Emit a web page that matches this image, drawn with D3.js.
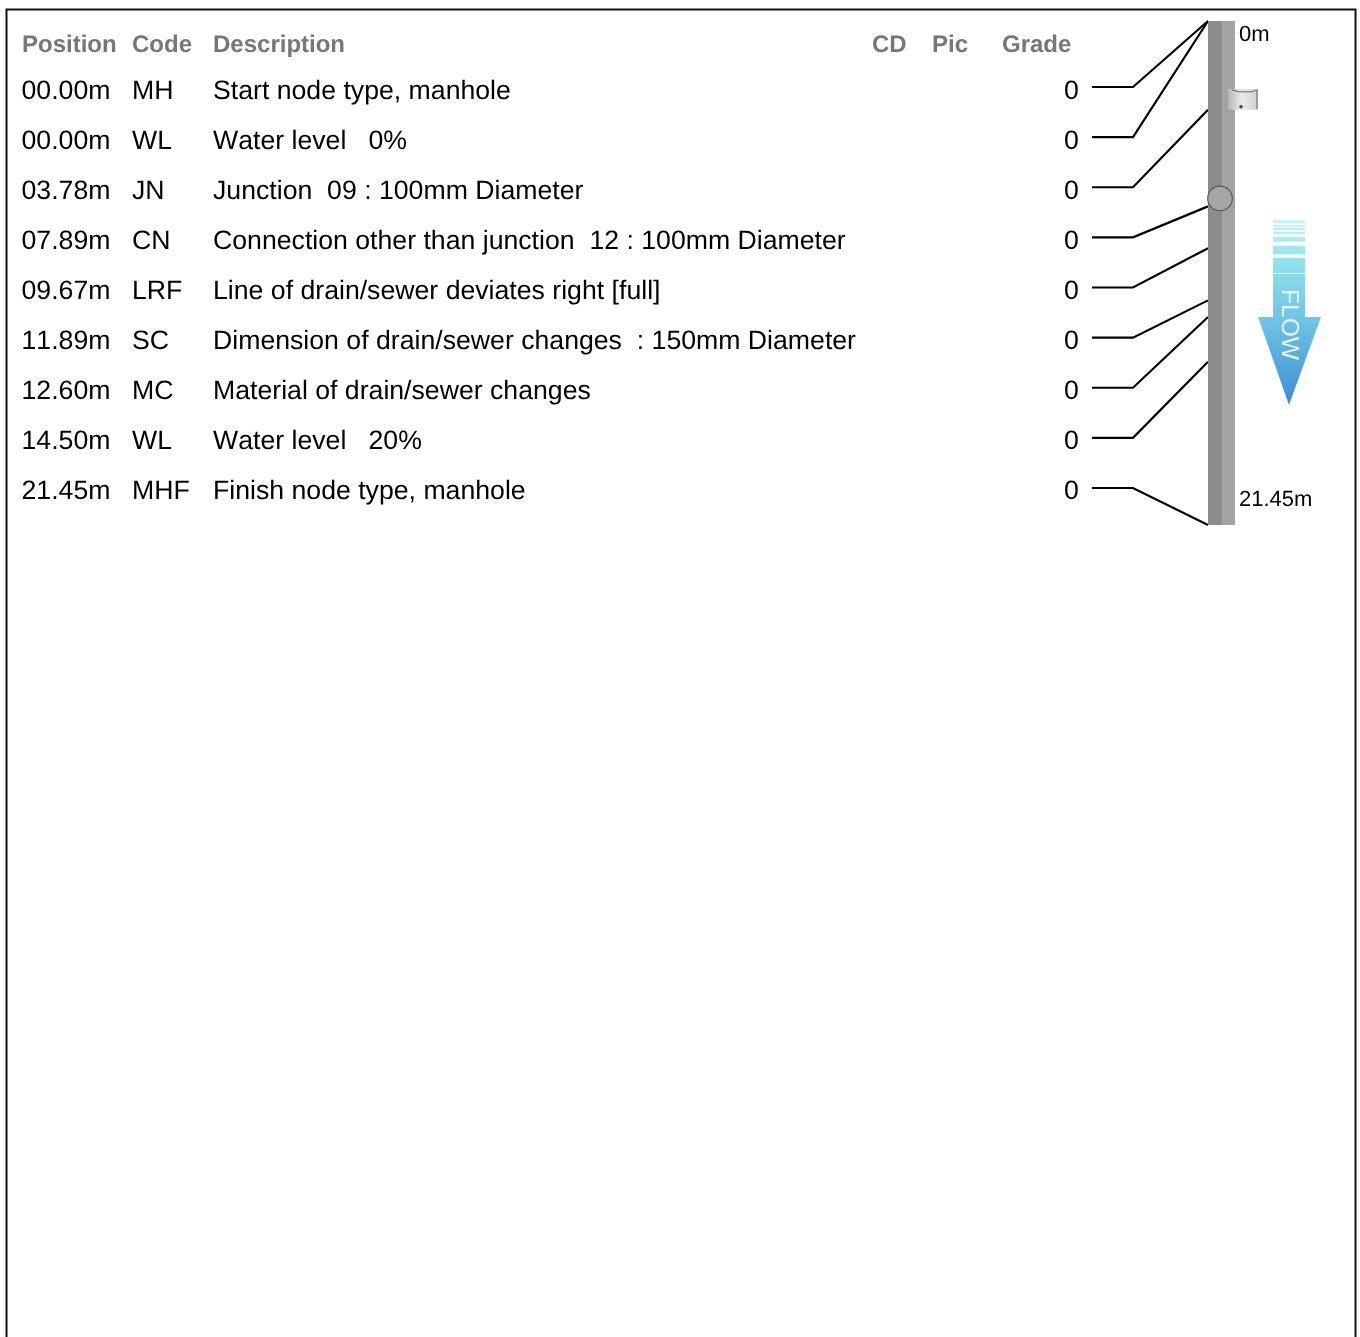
<!DOCTYPE html>
<html><head><meta charset="utf-8">
<script src="https://cdn.jsdelivr.net/npm/d3@7/dist/d3.min.js"></script>
<style>html,body{margin:0;padding:0;background:#fff}svg{display:block;filter:blur(0.35px)}text{font-family:"Liberation Sans",Arial,sans-serif;white-space:pre;font-kerning:none;text-rendering:geometricPrecision}</style>
</head><body><svg id="c" width="1360" height="1337"></svg>
<script>
const headers=["Position","Code","Description","CD","Pic","Grade"];
const positions=[0,0,3.78,7.89,9.67,11.89,12.60,14.50,21.45];
const codes=["MH","WL","JN","CN","LRF","SC","MC","WL","MHF"];
const descriptions=["Start node type, manhole","Water level   0%","Junction  09 : 100mm Diameter","Connection other than junction  12 : 100mm Diameter","Line of drain/sewer deviates right [full]","Dimension of drain/sewer changes  : 150mm Diameter","Material of drain/sewer changes","Water level   20%","Finish node type, manhole"];
const grades=[0,0,0,0,0,0,0,0,0];
const pipeEnds=[0,21.45];
const flowBands=[[220,223],[225,226.7],[227.7,230],[231.7,234.3],[236.7,241.7],[245.7,254.3],[257.7,273],[274,317]];

const svg=d3.select("#c");
const W=1360,H=1337;
const y=d3.scaleLinear().domain(pipeEnds).range([21,525]);
const row=d3.scaleLinear().domain([0,8]).range([99,499]);
const leadY=d3.scaleLinear().domain([0,8]).range([87,488]);
const fmt=p=>d3.format("05.2f")(p)+"m";

const defs=svg.append("defs");
defs.append("filter").attr("id","soft").append("feGaussianBlur").attr("stdDeviation",0.6);
const g1=defs.append("linearGradient").attr("id","flowG").attr("gradientUnits","userSpaceOnUse").attr("x1",0).attr("x2",0).attr("y1",220).attr("y2",405);
[[0,"#c8f4f6"],[0.2,"#93e4ec"],[0.5,"#74c8e6"],[1,"#3a8ed3"]].forEach(s=>g1.append("stop").attr("offset",s[0]).attr("stop-color",s[1]));
const g2=defs.append("linearGradient").attr("id","iconG").attr("x1",0).attr("x2",1).attr("y1",0).attr("y2",0);
[[0,"#b5b5b5"],[0.45,"#ebebeb"],[1,"#d0d0d0"]].forEach(s=>g2.append("stop").attr("offset",s[0]).attr("stop-color",s[1]));

// frame (open at the bottom: it runs past the page edge)
svg.append("path").attr("d",`M6.5,${H+5}V9.5H1355.5V${H+5}`).attr("fill","none").attr("stroke","#111").attr("stroke-width",2);

// header
const colX=[22,132,213,872,932,1002];
svg.selectAll("text.h").data(headers).join("text").attr("class","h")
  .attr("x",(d,i)=>colX[i]).attr("y",52).attr("font-size",24).attr("font-weight","bold").attr("fill","#777").text(d=>d);

// rows
const rows=svg.selectAll("g.r").data(positions).join("g").attr("class","r");
const fs=26.67;
rows.append("text").attr("x",21.5).attr("y",(d,i)=>row(i)).attr("font-size",fs).attr("fill","#000").text(d=>fmt(d));
rows.append("text").attr("x",132).attr("y",(d,i)=>row(i)).attr("font-size",fs).text((d,i)=>codes[i]);
rows.append("text").attr("x",213).attr("y",(d,i)=>row(i)).attr("font-size",fs).text((d,i)=>descriptions[i]);
rows.append("text").attr("x",1064).attr("y",(d,i)=>row(i)).attr("font-size",fs).text((d,i)=>grades[i]);

// pipe
svg.append("rect").attr("x",1208).attr("width",14).attr("y",y(0)).attr("height",y(21.45)-y(0)).attr("fill","#8c8c8c");
svg.append("rect").attr("x",1222).attr("width",13).attr("y",y(0)).attr("height",y(21.45)-y(0)).attr("fill","#a3a3a3");

// leaders
rows.append("path").attr("fill","none").attr("stroke","#000").attr("stroke-width",2.2)
  .attr("d",(d,i)=>`M1092,${leadY(i)}H1133L1208,${y(d)}`);

// junction + connection markers
svg.append("circle").attr("cx",1220).attr("cy",y(7.89)-8).attr("r",12.3).attr("fill","#a6a6a6").attr("stroke","#555").attr("stroke-width",1.1);
const ic=svg.append("g").attr("filter","url(#soft)");
const icTop=y(3.78)-21;
ic.append("rect").attr("x",1228).attr("y",icTop).attr("width",30).attr("height",21).attr("fill","url(#iconG)");
ic.append("path").attr("d",`M1232,${icTop+1}l7,2h13l5,-2v19`).attr("fill","none").attr("stroke","#666").attr("stroke-width",1);
ic.append("circle").attr("cx",1241).attr("cy",icTop+18).attr("r",1.8).attr("fill","#444");

// pipe end labels
svg.append("text").attr("x",1239).attr("y",41).attr("font-size",22).text(pipeEnds[0]+"m");
svg.append("text").attr("x",1239).attr("y",506).attr("font-size",22).text(pipeEnds[1]+"m");

// flow arrow
const fl=svg.append("g");
fl.selectAll("rect").data(flowBands).join("rect").attr("x",1273).attr("width",32)
  .attr("y",d=>d[0]).attr("height",d=>d[1]-d[0]).attr("fill","url(#flowG)");
fl.append("path").attr("d","M1258,317H1321L1289,405Z").attr("fill","url(#flowG)");
svg.append("text").attr("transform","translate(1282,289) rotate(90)").attr("font-size",24.6).attr("fill","#e6f5fb").text("FLOW");
</script></body></html>
